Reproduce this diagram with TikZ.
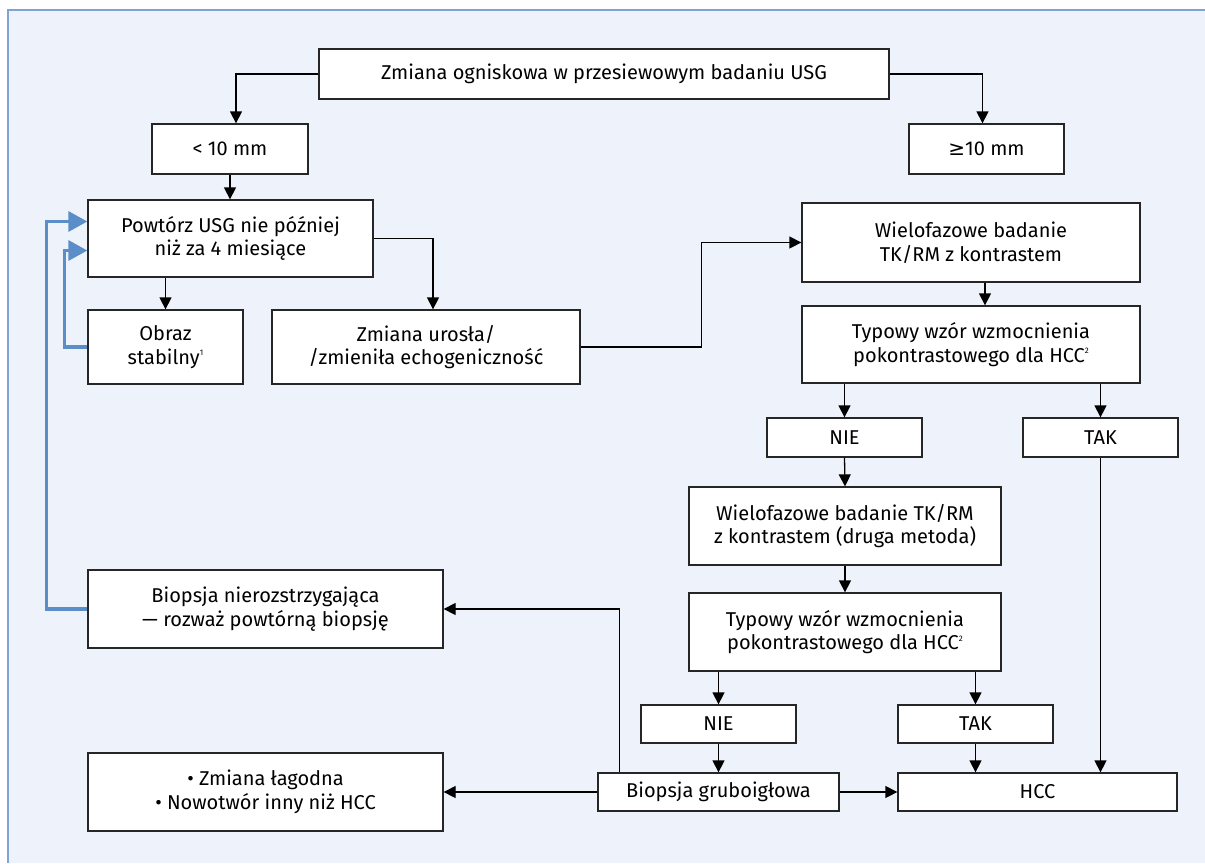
\documentclass[tikz,border=0pt]{standalone}
\usepackage{fontspec}
\setmainfont{Fira Sans}
\newfontfamily\symfont{DejaVu Sans}
\usetikzlibrary{arrows.meta}
\definecolor{bgblue}{HTML}{EEF2FA}
\definecolor{frameblue}{HTML}{7FA3D6}
\definecolor{loopblue}{HTML}{5B8DC8}
\newcommand{\fnote}[1]{\raisebox{0.8ex}{\fontsize{8}{8}\selectfont #1}}
\begin{document}
\begin{tikzpicture}[x=1pt,y=-1pt,
    box/.style={draw=black!85,fill=white,line width=1.3pt,align=center,inner sep=0pt,
      font=\fontsize{20}{23.5}\selectfont},
    conn/.style={line width=1.3pt,-{Triangle[length=12pt,width=12pt]}},
    back/.style={loopblue,line width=3.3pt,-{Triangle[length=19pt,width=20pt]}}]
\useasboundingbox (0,0) rectangle (1205,863);
\fill[bgblue] (8,10) rectangle (1205,863);
\draw[frameblue,line width=1.5pt] (8,863) -- (8,10) -- (1205,10);

\node[box,minimum width=570pt,minimum height=50pt] (top) at (604,74) {Zmiana ogniskowa w przesiewowym badaniu USG};
\node[box,minimum width=156pt,minimum height=50pt] (lt10) at (230,149) {< 10 mm};
\node[box,minimum width=155pt,minimum height=50pt] (ge10) at (986.5,149) {{\symfont ≥}10 mm};
\node[box,minimum width=285pt,minimum height=77pt] (powt) at (230.5,238.5) {Powtórz USG nie później\\niż za 4 miesiące};
\node[box,minimum width=155pt,minimum height=74pt] (obraz) at (165.5,347) {Obraz\\stabilny\fnote{1}};
\node[box,minimum width=308pt,minimum height=74pt] (urosla) at (426,347) {Zmiana urosła/\\/zmieniła echogeniczność};
\node[box,minimum width=338pt,minimum height=79pt] (wielo1) at (971,242.5) {Wielofazowe badanie\\TK/RM z kontrastem};
\node[box,minimum width=338pt,minimum height=77pt] (typ1) at (971,344.5) {Typowy wzór wzmocnienia\\pokontrastowego dla HCC\fnote{2}};
\node[box,minimum width=155pt,minimum height=39pt] (nie1) at (844.5,437.5) {NIE};
\node[box,minimum width=155pt,minimum height=39pt] (tak1) at (1100.5,437.5) {TAK};
\node[box,minimum width=312pt,minimum height=78pt] (wielo2) at (845,526) {Wielofazowe badanie TK/RM\\z kontrastem (druga metoda)};
\node[box,minimum width=312pt,minimum height=78pt] (typ2) at (845,632) {Typowy wzór wzmocnienia\\pokontrastowego dla HCC\fnote{2}};
\node[box,minimum width=155pt,minimum height=38pt] (nie2) at (718.5,724) {NIE};
\node[box,minimum width=155pt,minimum height=38pt] (tak2) at (975.5,724) {TAK};
\node[box,minimum width=241pt,minimum height=38pt] (biopsja) at (718.5,792) {Biopsja gruboigłowa};
\node[box,minimum width=279pt,minimum height=38pt] (hcc) at (1037.5,792) {HCC};
\node[box,minimum width=355pt,minimum height=78pt] (nieroz) at (265.5,609) {Biopsja nierozstrzygająca\\— rozważ powtórną biopsję};
\node[box,minimum width=355pt,minimum height=78pt] (lagodna) at (265.5,792) {• Zmiana łagodna\\• Nowotwór inny niż HCC};

% strzalki
\draw[conn] (top.west) -| ([xshift=6pt]lt10.north);
\draw[conn] (top.east) -| ([xshift=-4pt]ge10.north);
\draw[conn] (lt10.south) -- (lt10.south |- powt.north);
\draw[conn] (obraz.north |- powt.south) -- (obraz.north);
\draw[conn] (powt.east) -| ([xshift=7pt]urosla.north);
\draw[conn] (urosla.east) -- ++(121,0) |- (wielo1.west);
\draw[conn] ([xshift=14pt]wielo1.south) -- ([xshift=14pt]typ1.north);
\draw[conn] (nie1.north |- typ1.south) -- (nie1.north);
\draw[conn] (tak1.north |- typ1.south) -- (tak1.north);
\draw[conn] (nie1.south) -- (wielo2.north);
\draw[conn] (tak1.south) -- (tak1.south |- hcc.north);
\draw[conn] (wielo2.south) -- (typ2.north);
\draw[conn] (nie2.north |- typ2.south) -- (nie2.north);
\draw[conn] (tak2.north |- typ2.south) -- (tak2.north);
\draw[conn] (nie2.south) -- (biopsja.north);
\draw[conn] (tak2.south) -- (tak2.south |- hcc.north);
\draw[conn] (biopsja.east) -- (hcc.west);
\draw[conn] (biopsja.west) -- (lagodna.east);
\draw[conn] ([xshift=-99pt]biopsja.north) |- (nieroz.east);
% powroty
\draw[back] (nieroz.west) -- ++(-41,0) |- ([yshift=17pt]powt.west);
\draw[back] (obraz.west) -- ++(-23,0) |- ([yshift=-12pt]powt.west);
\end{tikzpicture}
\end{document}
